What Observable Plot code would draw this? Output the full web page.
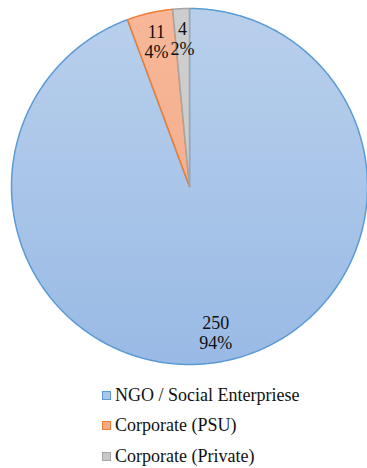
<!DOCTYPE html>
<html>
<head>
<meta charset="utf-8">
<script src="https://cdn.jsdelivr.net/npm/d3@7"></script>
<script src="https://cdn.jsdelivr.net/npm/@observablehq/plot@0.6"></script>
<style>
  body { margin: 0; background: #fff; font-family: "Liberation Serif", "Times New Roman", serif; }
  #chart { width: 367px; height: 468px; position: relative; overflow: hidden; }
  #legend { position: absolute; left: 102px; top: 380px; }
  .row { height: 30.5px; display: flex; align-items: center; font-size: 18px; color: #111; white-space: nowrap; }
  .sw { width: 7px; height: 7px; border: 1px solid; margin-right: 4px; flex: none; }
</style>
</head>
<body>
<div id="chart"></div>
<script>
// Data
const categories = ["NGO / Social Enterpriese", "Corporate (PSU)", "Corporate (Private)"];
const values = [250, 11, 4];
const percentLabels = ["94%", "4%", "2%"];
const fills = ["url(#gradBlue)", "url(#gradOrange)", "#cdcdcd"];
const strokes = ["#5b9bd5", "#ed7d31", "#a5a5a5"];
const swatchFills = ["#a9c6ea", "#f4ab86", "#c9c9c9"];

// Pie angles (clockwise from 12 o'clock)
const pie = d3.pie().sort(null).value(d => d)(values);

const slicePoints = [];
pie.forEach((p, i) => {
  const a0 = p.startAngle, a1 = p.endAngle;
  const n = Math.max(4, Math.ceil((a1 - a0) / (Math.PI / 360)));
  slicePoints.push({cat: categories[i], x: 0, y: 0});
  for (let k = 0; k <= n; k++) {
    const a = a0 + (a1 - a0) * k / n;
    slicePoints.push({cat: categories[i], x: Math.sin(a), y: Math.cos(a)});
  }
  slicePoints.push({cat: categories[i], x: 0, y: 0});
});

const labelR = 0.833;
const labels = pie.map((p, i) => {
  const a = (p.startAngle + p.endAngle) / 2;
  return {x: labelR * Math.sin(a), y: labelR * Math.cos(a), text: values[i] + "\n" + percentLabels[i]};
});

const marks = categories.map((c, i) =>
  Plot.line(slicePoints.filter(d => d.cat === c), {
    x: "x", y: "y", fill: fills[i], stroke: strokes[i], strokeWidth: 1.5, strokeLinejoin: "round"
  })
);
marks.push(Plot.text(labels, {
  x: "x", y: "y", text: "text", fontSize: 18, lineHeight: 1.12,
  fontFamily: "Liberation Serif", fill: "#111"
}));

const svg = Plot.plot({
  width: 367,
  height: 380,
  margin: 0,
  x: {type: "linear", domain: [-1, 1], range: [11, 367], axis: null},
  y: {type: "linear", domain: [-1, 1], range: [364, 8], axis: null},
  style: {background: "transparent", overflow: "visible", fontFamily: "Liberation Serif"},
  marks
});

// gradients
const ns = "http://www.w3.org/2000/svg";
const defs = document.createElementNS(ns, "defs");
defs.innerHTML = `
  <linearGradient id="gradBlue" x1="0" y1="0" x2="0" y2="1">
    <stop offset="0" stop-color="#b9d0ec"/>
    <stop offset="1" stop-color="#99bae5"/>
  </linearGradient>
  <linearGradient id="gradOrange" x1="0" y1="0" x2="0" y2="1">
    <stop offset="0" stop-color="#f7b798"/>
    <stop offset="1" stop-color="#f5b08e"/>
  </linearGradient>`;
svg.insertBefore(defs, svg.firstChild);

const chart = document.getElementById("chart");
chart.appendChild(svg);

const legend = document.createElement("div");
legend.id = "legend";
categories.forEach((c, i) => {
  const row = document.createElement("div");
  row.className = "row";
  const sw = document.createElement("span");
  sw.className = "sw";
  sw.style.background = swatchFills[i];
  sw.style.borderColor = strokes[i];
  const t = document.createElement("span");
  t.textContent = c;
  row.appendChild(sw);
  row.appendChild(t);
  legend.appendChild(row);
});
chart.appendChild(legend);
</script>
</body>
</html>
